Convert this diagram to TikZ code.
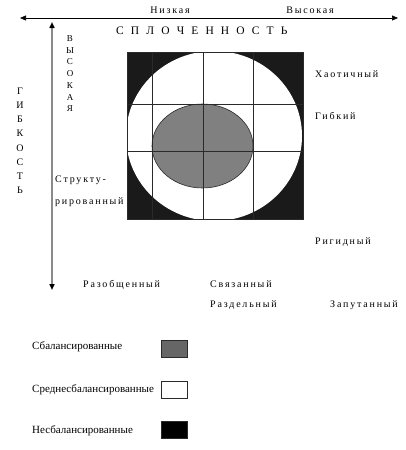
\documentclass[tikz,border=0pt]{standalone}
\usepackage{fontspec}
\setmainfont{Liberation Serif}
\newfontfamily\lsfont[LetterSpace=18]{Liberation Serif}
\newfontfamily\wsfont[LetterSpace=37]{Liberation Serif}
\usetikzlibrary{arrows.meta}
\definecolor{blk}{HTML}{1A1A1A}
\definecolor{midgray}{HTML}{808080}
\definecolor{leggray}{HTML}{666666}
\definecolor{gridc}{HTML}{2A2A2A}
\definecolor{axisgray}{HTML}{8A8A8A}
\begin{document}
\begin{tikzpicture}[x=1pt,y=-1pt,
  lbl/.style={font=\lsfont\fontsize{10}{12}\selectfont, inner sep=0pt, anchor=base west},
  leg/.style={font=\fontsize{11}{13}\selectfont, inner sep=0pt, anchor=base west},
  legbox/.style={draw=gridc, line width=0.6pt, minimum width=26pt, minimum height=17pt, inner sep=0pt},
  gridline/.style={draw=gridc, line width=0.7pt}]
\useasboundingbox (0,0) rectangle (405,450);

% top axis
\coordinate (hl) at (20,18);
\coordinate (hr) at (398,18);
\draw[line width=0.6pt, {Triangle[length=6pt,width=5pt]}-{Triangle[length=6pt,width=5pt]}] (hl) -- (hr);
\node[lbl, anchor=base] (low) at (170,13.5) {Низкая};
\node[lbl, anchor=base] (high) at (310,13.5) {Высокая};
\node[font=\wsfont\fontsize{11.5}{13}\selectfont, inner sep=0pt, anchor=base west] (coh) at (116,34) {С П Л О Ч Е Н Н О С Т Ь};

% vertical axis
\coordinate (vt) at (52,22);
\coordinate (vb) at (52,290);
\draw[draw=axisgray, line width=1.5pt, {Triangle[length=6pt,width=5pt,fill=black,color=black]}-{Triangle[length=6pt,width=5pt,fill=black,color=black]}] (vt) -- (vb);
\node[font=\fontsize{9}{11.7}\selectfont, inner sep=0pt, align=center, anchor=north] (vhigh) at (70,35.5) {В\\Ы\\С\\О\\К\\А\\Я};
\node[font=\fontsize{10}{14.2}\selectfont, inner sep=0pt, align=center, anchor=north] (flex) at (20,87.5) {Г\\И\\Б\\К\\О\\С\\Т\\Ь};

% square with circle
\begin{scope}
  \clip (127,52) rectangle (303,219);
  \fill[blk] (127,52) rectangle (303,219);
  \fill[white] (214,136) ellipse [x radius=88, y radius=85];
\end{scope}
\fill[midgray, draw=gridc, line width=0.6pt] (202.5,146) ellipse [x radius=50.5, y radius=42];
\foreach \gx in {152,203,253} \draw[gridline] (\gx,52) -- (\gx,219);
\foreach \gy in {104,151} \draw[gridline] (127,\gy) -- (303,\gy);
\draw[gridline] (127,52) rectangle (303,219);

% labels
\node[lbl] (chaos) at (315,77) {Хаотичный};
\node[lbl] (flexb) at (315,119) {Гибкий};
\node[lbl] (rigid) at (315,244) {Ригидный};
\node[lbl] (str1) at (55,182) {Структу-};
\node[lbl] (str2) at (55,204) {рированный};
\node[lbl] (disc) at (83,287) {Разобщенный};
\node[lbl] (conn) at (210,287) {Связанный};
\node[lbl] (sep) at (210,307) {Раздельный};
\node[lbl] (enm) at (330,307) {Запутанный};

% legend
\node[leg] (l1) at (32,349) {Сбалансированные};
\node[leg] (l2) at (32,392) {Среднесбалансированные};
\node[leg] (l3) at (32,433) {Несбалансированные};
\node[legbox, fill=leggray] (b1) at (174,349) {};
\node[legbox, fill=white] (b2) at (174,390) {};
\node[legbox, fill=black] (b3) at (174,430) {};
\end{tikzpicture}
\end{document}
